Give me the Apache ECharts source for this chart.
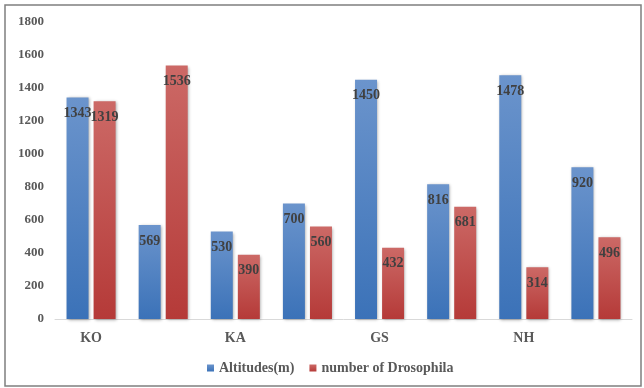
<!DOCTYPE html>
<html>
<head>
<meta charset="utf-8">
<script src="https://cdn.jsdelivr.net/npm/echarts@6/dist/echarts.min.js"></script>
<style>
  html, body { margin: 0; padding: 0; background: #fff; }
  #chart { width: 644px; height: 388px; }
</style>
</head>
<body>
<div id="chart"></div>
<script>
// Sampling sites (one label per pair of sampling points)
const categories = ['KO', '', 'KA', '', 'GS', '', 'NH', ''];
const altitudes = [1343, 569, 530, 700, 1450, 816, 1478, 920];
const drosophila = [1319, 1536, 390, 560, 432, 681, 314, 496];
const seriesNames = ['Altitudes(m)', 'number of Drosophila'];
const yTicks = { min: 0, max: 1800, interval: 200 };

const FONT = '"Liberation Serif", "Times New Roman", serif';

function grad(top, bottom) {
  return new echarts.graphic.LinearGradient(0, 0, 0, 1, [
    { offset: 0, color: top },
    { offset: 1, color: bottom }
  ]);
}

const labelStyle = {
  show: true,
  position: 'insideTop',
  distance: 9,
  color: '#404040',
  fontFamily: FONT,
  fontWeight: 'bold',
  fontSize: 14
};

const chart = echarts.init(document.getElementById('chart'), null, { renderer: 'canvas' });
chart.setOption({
  animation: false,
  backgroundColor: '#fff',
  graphic: [{
    type: 'rect',
    shape: { x: 5, y: 5, width: 636, height: 381 },
    style: { fill: 'none', stroke: '#7f7f7f', lineWidth: 1.5 },
    silent: true
  }],
  grid: { left: 55, right: 12, top: 22, bottom: 69 },
  legend: {
    data: seriesNames,
    left: 202,
    top: 356,
    itemWidth: 7,
    itemHeight: 7,
    itemGap: 15,
    icon: 'rect',
    textStyle: { color: '#595959', fontFamily: FONT, fontWeight: 'bold', fontSize: 14 }
  },
  xAxis: {
    type: 'category',
    data: categories,
    axisLine: { lineStyle: { color: '#d9d9d9', width: 1 } },
    axisTick: { show: false },
    axisLabel: {
      interval: 0,
      margin: 12,
      color: '#595959',
      fontFamily: FONT,
      fontWeight: 'bold',
      fontSize: 14
    }
  },
  yAxis: {
    type: 'value',
    min: yTicks.min,
    max: yTicks.max,
    interval: yTicks.interval,
    axisLine: { show: false },
    axisTick: { show: false },
    splitLine: { show: false },
    axisLabel: {
      margin: 11,
      color: '#595959',
      fontFamily: FONT,
      fontWeight: 'bold',
      fontSize: 13,
      formatter: v => String(v)
    }
  },
  series: [
    {
      name: seriesNames[0],
      type: 'bar',
      data: altitudes,
      barWidth: 22,
      barGap: '23%',
      itemStyle: {
        color: grad('#6b94cc', '#3b72b8'),
        shadowColor: 'rgba(0,0,0,0.35)',
        shadowBlur: 3,
        shadowOffsetX: 1,
        shadowOffsetY: 1
      },
      label: labelStyle
    },
    {
      name: seriesNames[1],
      type: 'bar',
      data: drosophila,
      barWidth: 22,
      barGap: '23%',
      itemStyle: {
        color: grad('#cc6966', '#b53a38'),
        shadowColor: 'rgba(0,0,0,0.35)',
        shadowBlur: 3,
        shadowOffsetX: 1,
        shadowOffsetY: 1
      },
      label: labelStyle
    }
  ]
});
</script>
</body>
</html>
